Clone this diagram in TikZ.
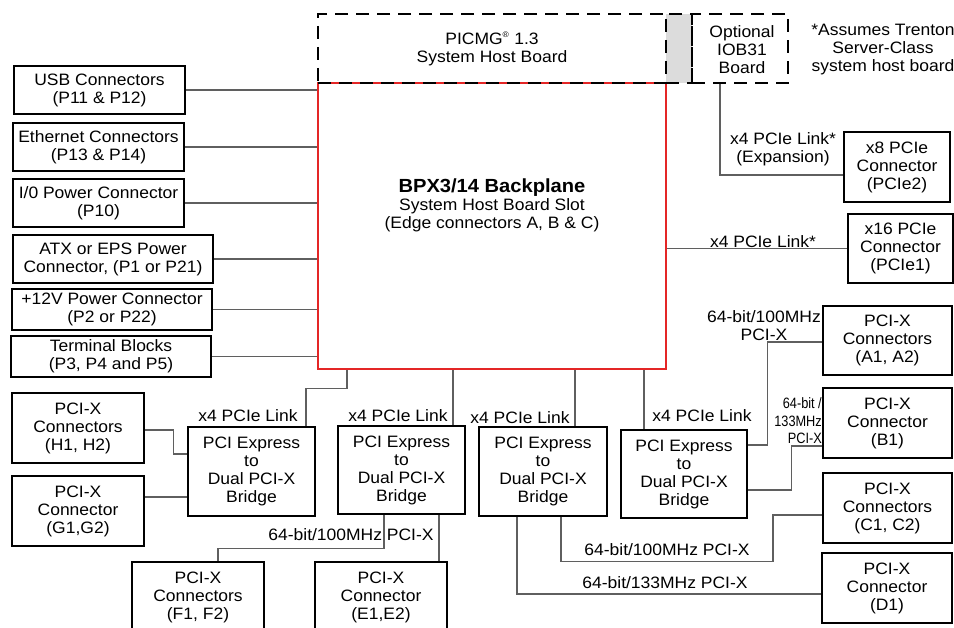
\documentclass[tikz,border=0pt]{standalone}
\usepackage{fontspec}
\setmainfont[FakeStretch=1.06]{Liberation Sans}
\newfontfamily\narrowfont[FakeStretch=0.85]{Liberation Sans}
\usetikzlibrary{calc}
\definecolor{wiregray}{RGB}{95,95,95}
\definecolor{boardred}{RGB}{228,38,38}
\definecolor{slotgray}{RGB}{220,220,220}
\newcommand{\txtsize}{\fontsize{16.5}{18}\selectfont}
\tikzset{
  box/.style={draw, line width=2.8pt, align=center, inner sep=0pt, font=\txtsize},
  dashbox/.style={draw, line width=2.8pt, dash pattern=on 13pt off 8pt, inner sep=0pt},
  wire/.style={draw=wiregray, line width=1.1pt},
  lbl/.style={align=center, inner sep=0pt, font=\txtsize},
}

\begin{document}
\begin{tikzpicture}[x=1pt,y=-1pt]
    \useasboundingbox (0,0) rectangle (954,628);
    \clip (0,0) rectangle (954,628);

    \node[draw=boardred, line width=2.8pt, minimum width=348, minimum height=286] (bp) at (492,226) {};
    \node[lbl] (bptxt) at (492,205) {{\fontsize{19}{18}\selectfont\bfseries BPX3/14 Backplane}\\System Host Board Slot\\(Edge connectors A, B \& C)};
    \node[dashbox, minimum width=348, minimum height=69] (picmg) at (492,48.5) {};
    \node[lbl] (picmgtxt) at (492,49) {PICMG\textsuperscript{\fontsize{8}{8}\selectfont ®} 1.3\\System Host Board};
    \node[dashbox, fill=slotgray, minimum width=26, minimum height=69] (slot) at (679,48.5) {};
    \node[dashbox, minimum width=96, minimum height=69] (opt) at (740,48.5) {};
    \node[lbl] (opttxt) at (742,50) {Optional\\IOB31\\Board};
    \node[lbl] (note) at (883,50) {*Assumes Trenton\\Server-Class\\system host board};

    \node[box, minimum width=171, minimum height=48] (usb) at (99.5,90) {USB Connectors\\(P11 \& P12)};
    \node[box, minimum width=171, minimum height=48] (eth) at (98.5,147) {Ethernet Connectors\\(P13 \& P14)};
    \node[box, minimum width=171, minimum height=48] (io) at (98.5,203) {I/0 Power Connector\\(P10)};
    \node[box, minimum width=200, minimum height=48] (atx) at (113,259) {ATX or EPS Power\\Connector, (P1 or P21)};
    \node[box, minimum width=200, minimum height=41] (pwr12) at (112,309.5) {+12V Power Connector\\(P2 or P22)};
    \node[box, minimum width=200, minimum height=41] (term) at (111,356.5) {Terminal Blocks\\(P3, P4 and P5)};

    \node[box, minimum width=106, minimum height=70] (pcie2) at (897,167) {x8 PCIe\\Connector\\(PCIe2)};
    \node[box, minimum width=105, minimum height=69] (pcie1) at (900.5,248.5) {x16 PCIe\\Connector\\(PCIe1)};
    \node[box, minimum width=129, minimum height=69] (conA) at (887.5,340.5) {PCI-X\\Connectors\\(A1, A2)};
    \node[box, minimum width=129, minimum height=70] (conB) at (887.5,423) {PCI-X\\Connector\\(B1)};
    \node[box, minimum width=129, minimum height=70] (conC) at (887.5,508) {PCI-X\\Connectors\\(C1, C2)};
    \node[box, minimum width=130, minimum height=70] (conD) at (887,588) {PCI-X\\Connector\\(D1)};

    \node[box, minimum width=132, minimum height=70] (conH) at (78,428) {PCI-X\\Connectors\\(H1, H2)};
    \node[box, minimum width=132, minimum height=70] (conG) at (78,511) {PCI-X\\Connector\\(G1,G2)};
    \node[box, minimum width=132, minimum height=70] (conF) at (198,597) {PCI-X\\Connectors\\(F1, F2)};
    \node[box, minimum width=132, minimum height=70] (conE) at (381,597) {PCI-X\\Connector\\(E1,E2)};

    \node[box, minimum width=127, minimum height=89] (brA) at (251.5,471.5) {PCI Express\\to\\Dual PCI-X\\Bridge};
    \node[box, minimum width=127, minimum height=88] (brB) at (401.5,470) {PCI Express\\to\\Dual PCI-X\\Bridge};
    \node[box, minimum width=128, minimum height=89] (brC) at (543,471.5) {PCI Express\\to\\Dual PCI-X\\Bridge};
    \node[box, minimum width=126, minimum height=88] (brD) at (684,474) {PCI Express\\to\\Dual PCI-X\\Bridge};

    \node[lbl] (lnkA) at (248,416) {x4 PCIe Link};
    \node[lbl] (lnkB) at (398,416) {x4 PCIe Link};
    \node[lbl] (lnkC) at (520,418) {x4 PCIe Link};
    \node[lbl] (lnkD) at (702,416) {x4 PCIe Link};
    \node[lbl] (lnk1) at (763,242) {x4 PCIe Link*};
    \node[lbl] (lnk2) at (783,149) {x4 PCIe Link*\\(Expansion)};
    \node[lbl] (busA) at (764,326) {64-bit/100MHz\\PCI-X};
    \node[lbl, align=right, anchor=east, font=\narrowfont\fontsize{15}{17.5}\selectfont] (busB) at (822,421) {64-bit /\\133MHz\\PCI-X};
    \node[lbl] (busC) at (667,550) {64-bit/100MHz PCI-X};
    \node[lbl] (busD) at (665,583) {64-bit/133MHz PCI-X};
    \node[lbl] (busF) at (351,535) {64-bit/100MHz PCI-X};

    \path[wire]
    (usb.east) edge (usb.east -| bp.west)
    (eth.east) edge (eth.east -| bp.west)
    (io.east) edge (io.east -| bp.west)
    (atx.east) edge (atx.east -| bp.west)
    (pwr12.east) edge (pwr12.east -| bp.west)
    (term.east) edge (term.east -| bp.west)
    (bp.east |- pcie1.west) edge (pcie1.west)
    ([xshift=51.5pt]brB.north) edge ([xshift=51.5pt]brB.north |- bp.south)
    ([xshift=32pt]brC.north) edge ([xshift=32pt]brC.north |- bp.south)
    ([xshift=-40pt]brD.north) edge ([xshift=-40pt]brD.north |- bp.south)
    ([xshift=37.5pt]brB.south) edge ([xshift=37.5pt]brB.south |- conE.north)
    ([yshift=14pt]conG.east) edge ([yshift=14pt]conG.east -| brA.west);

    \draw[wire] ([xshift=54.5pt]brA.north) -- ++(0,-37) -| ([xshift=-145pt]bp.south);
    \draw[wire] ([xshift=-20pt]opt.south) |- ([yshift=-8pt]pcie2.west);
    \draw[wire] ([yshift=29pt]brD.east) -- ++(19,0) |- ([yshift=-1.5pt]conA.west);
    \draw[wire] ([yshift=-16pt]brD.east) -- ++(43,0) |- ([yshift=-23pt]conB.west);
    \draw[wire] ([xshift=18pt]brC.south) -- ++(0,44) -- ++(212,0) |- ([yshift=-7pt]conC.west);
    \draw[wire] ([xshift=-26pt]brC.south) |- ([yshift=-6pt]conD.west);
    \draw[wire] ([xshift=-17.5pt]brB.south) -- ++(0,33) -| ([xshift=20pt]conF.north);
    \draw[wire] ([yshift=-2pt]conH.east) -- ++(28,0) |- ([yshift=17.5pt]brA.west);
\end{tikzpicture}
\end{document}
